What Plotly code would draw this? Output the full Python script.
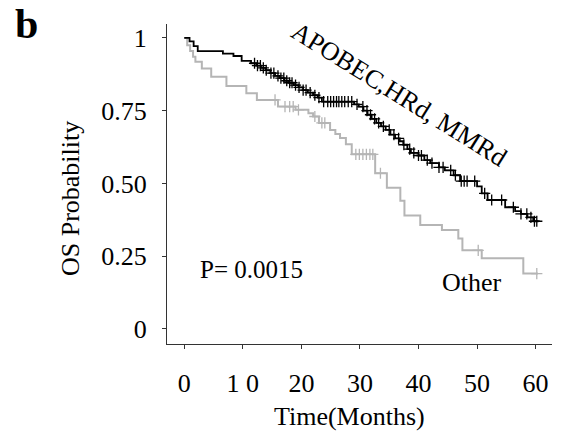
import bisect
import plotly.graph_objects as go

# ---------------- data ----------------
# Kaplan-Meier step curve: APOBEC, HRd, MMRd
time_a = [0, 0.9, 1.6, 2.3, 6.6, 8.4, 9.8, 11.4, 12.3, 13.1, 13.9, 14.7, 15.5, 16.3,
          17.1, 17.9, 18.7, 19.5, 20.3, 21.1, 22.0, 22.8, 23.5, 29.0, 29.8, 30.6,
          31.3, 32.0, 32.8, 33.6, 34.4, 35.2, 36.0, 36.8, 37.4, 38.1, 38.7, 40.0,
          41.0, 42.0, 43.5, 44.5, 46.0, 47.1, 50.0, 50.8, 51.8, 54.8, 56.5, 57.5,
          58.6, 59.6, 60.5]
surv_a = [1.0, 0.988, 0.972, 0.955, 0.946, 0.938, 0.921, 0.913, 0.905, 0.897, 0.889,
          0.879, 0.870, 0.862, 0.853, 0.846, 0.838, 0.830, 0.821, 0.812, 0.803, 0.795,
          0.781, 0.772, 0.764, 0.750, 0.736, 0.722, 0.708, 0.696, 0.684, 0.668, 0.655,
          0.645, 0.633, 0.618, 0.605, 0.596, 0.580, 0.570, 0.555, 0.545, 0.528, 0.508,
          0.490, 0.466, 0.443, 0.418, 0.405, 0.395, 0.383, 0.370, 0.370]
censor_a = [12.0, 12.5, 13.0, 13.5, 14.0, 14.8, 15.3, 16.0, 16.5, 17.0, 17.5, 18.0,
            18.4, 19.0, 19.6, 20.3, 20.8, 21.5, 22.3, 23.0, 23.8, 24.5, 25.0, 25.5,
            26.0, 26.4, 26.9, 27.4, 28.0, 28.6, 29.5, 30.5, 31.2, 31.8, 32.5, 33.2,
            34.0, 35.0, 35.8, 36.6, 37.5, 38.5, 39.2, 40.0, 40.5, 41.5, 42.3, 43.5,
            44.2, 45.5, 46.3, 47.3, 47.8, 48.3, 49.6, 51.3, 52.5, 54.2, 56.2, 57.5,
            58.5, 59.2, 59.8, 60.2]

# Kaplan-Meier step curve: Other
time_o = [0, 0.5, 1.0, 1.5, 1.9, 3.0, 4.6, 7.2, 10.6, 12.4, 16.0, 19.0, 21.2, 22.0,
          23.0, 24.9, 25.8, 26.6, 27.6, 28.6, 32.6, 34.6, 36.9, 37.6, 40.3, 44.0,
          46.8, 47.5, 50.8, 57.9, 60.4]
surv_o = [1.0, 0.975, 0.955, 0.935, 0.918, 0.895, 0.867, 0.835, 0.810, 0.787, 0.764,
          0.753, 0.741, 0.730, 0.708, 0.684, 0.670, 0.656, 0.635, 0.600, 0.535, 0.485,
          0.440, 0.390, 0.357, 0.340, 0.311, 0.270, 0.243, 0.190, 0.190]
censor_o = [15.5, 17.2, 18.0, 18.6, 19.5, 22.3, 23.5, 24.0, 29.3, 29.9, 30.5, 31.1,
            31.7, 32.2, 33.5, 50.2, 60.2]

x_tickvals = [0, 10, 20, 30, 40, 50, 60]
x_ticktext = ["0", "1 0", "20", "30", "40", "50", "60"]
y_tickvals = [0, 0.25, 0.5, 0.75, 1]
y_ticktext = ["0", "0.25", "0.50", "0.75", "1"]

label_a = "APOBEC,HRd, MMRd"
label_o = "Other"
p_text = "P= 0.0015"
panel = "b"
x_title = "Time(Months)"
y_title = "OS Probability"


def step_value(times, survs, t):
    i = bisect.bisect_right(times, t) - 1
    return survs[max(i, 0)]


FONT = "Liberation Serif, Times New Roman, serif"
BLACK = "#000000"
GRAY = "#b5b5b5"

fig = go.Figure()

fig.add_trace(go.Scatter(x=time_o, y=surv_o, mode="lines", line_shape="hv",
                         line=dict(color=GRAY, width=2), showlegend=False,
                         name=label_o))
fig.add_trace(go.Scatter(x=censor_o, y=[step_value(time_o, surv_o, t) for t in censor_o],
                         mode="markers", showlegend=False, name=label_o + " censored",
                         marker=dict(symbol="cross-thin", size=8,
                                     line=dict(color=GRAY, width=1.3))))
fig.add_trace(go.Scatter(x=time_a, y=surv_a, mode="lines", line_shape="hv",
                         line=dict(color=BLACK, width=1.8), showlegend=False,
                         name=label_a))
fig.add_trace(go.Scatter(x=censor_a, y=[step_value(time_a, surv_a, t) for t in censor_a],
                         mode="markers", showlegend=False, name=label_a + " censored",
                         marker=dict(symbol="cross-thin", size=8,
                                     line=dict(color=BLACK, width=1.3))))

axis_common = dict(showline=True, linecolor="#333333", linewidth=1, ticks="outside",
                   ticklen=4, tickcolor="#333333", showgrid=False, zeroline=False,
                   tickfont=dict(family=FONT, size=26, color="#000000"))

fig.update_xaxes(range=[-2.95, 62.8], tickvals=x_tickvals, ticktext=x_ticktext,
                 ticklabelstandoff=12, **axis_common)
fig.update_yaxes(range=[-0.052, 1.048], tickvals=y_tickvals, ticktext=y_ticktext,
                 ticklabelstandoff=10, **axis_common)

annots = [
    dict(text=label_a, x=36.7, y=0.804, xref="x", yref="y", textangle=32,
         font=dict(size=26)),
    dict(text=p_text, x=11.5, y=0.203, xref="x", yref="y", font=dict(size=25)),
    dict(text=label_o, x=49.1, y=0.158, xref="x", yref="y", font=dict(size=26)),
    dict(text="<b>" + panel + "</b>", x=-0.366, y=1.0, xref="paper", yref="paper",
         font=dict(size=42)),
    dict(text=x_title, x=0.475, y=-0.228, xref="paper", yref="paper",
         font=dict(size=26)),
    dict(text=y_title, x=-0.252, y=0.456, xref="paper", yref="paper", textangle=-90,
         font=dict(size=26)),
]
for a in annots:
    a.setdefault("showarrow", False)
    a["xanchor"] = "center"
    a["yanchor"] = "middle"
    a["font"] = dict(family=FONT, color="#000000", **a["font"])
    fig.add_annotation(**a)

fig.update_layout(width=577, height=448, margin=dict(l=167, r=25, t=24, b=104),
                  paper_bgcolor="white", plot_bgcolor="white",
                  font=dict(family=FONT, color="#000000"))

fig.write_html("out.html")
